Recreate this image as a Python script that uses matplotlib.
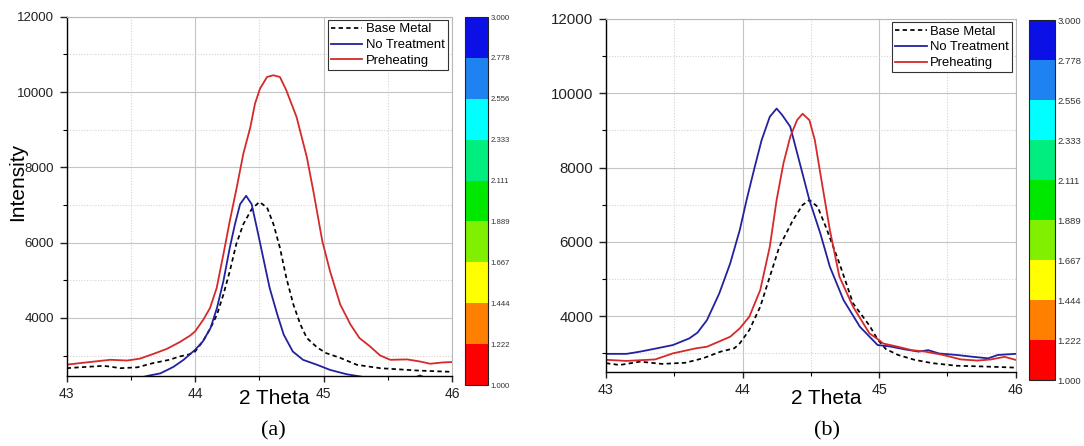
import matplotlib
matplotlib.use("Agg")
import matplotlib.pyplot as plt
from matplotlib.colors import ListedColormap, BoundaryNorm
from matplotlib.ticker import MultipleLocator, FixedLocator
import matplotlib.colorbar as mcolorbar

plt.rcParams['font.family'] = ['Liberation Sans', 'DejaVu Sans']

# ---------------- data: panel (a) ----------------
xa_base = [43.0, 43.10, 43.29, 43.42, 43.55, 43.67, 43.80, 43.88, 43.95, 44.0, 44.06, 44.12,
           44.17, 44.22, 44.27, 44.32, 44.375, 44.44, 44.50, 44.56, 44.61, 44.66, 44.71,
           44.765, 44.82, 44.87, 44.95, 45.02, 45.13, 45.26, 45.44, 45.52, 45.73, 45.93, 46.0]
ya_base = [2667, 2690, 2730, 2667, 2690, 2800, 2890, 2978, 3030, 3111, 3378, 3733,
           4089, 4622, 5245, 5956, 6489, 6889, 7080, 6933, 6489, 5867, 5067,
           4356, 3823, 3467, 3218, 3067, 2940, 2756, 2667, 2650, 2605, 2578, 2570]

xa_none = [43.0, 43.5, 43.64, 43.73, 43.83, 43.91, 44.0, 44.06, 44.12, 44.17, 44.22, 44.27,
           44.31, 44.35, 44.397, 44.44, 44.48, 44.53, 44.58, 44.64, 44.69, 44.76, 44.84,
           44.95, 45.05, 45.18, 45.28, 45.4, 45.6, 45.7, 45.75, 45.8, 46.0]
ya_none = [2200, 2350, 2470, 2530, 2700, 2889, 3156, 3378, 3733, 4266, 4978, 5867,
           6489, 7022, 7245, 7022, 6400, 5600, 4800, 4089, 3556, 3111, 2889,
           2756, 2622, 2506, 2450, 2380, 2350, 2400, 2475, 2400, 2300]

xa_pre = [43.0, 43.10, 43.26, 43.34, 43.47, 43.57, 43.67, 43.78, 43.88, 43.96, 44.0, 44.064,
          44.116, 44.168, 44.22, 44.27, 44.324, 44.375, 44.43, 44.466, 44.505, 44.56, 44.61,
          44.66, 44.71, 44.79, 44.87, 44.92, 44.99, 45.05, 45.13, 45.21, 45.28, 45.36,
          45.44, 45.52, 45.65, 45.75, 45.83, 45.93, 46.0]
ya_pre = [2760, 2800, 2860, 2890, 2870, 2920, 3040, 3180, 3360, 3530, 3645, 3956,
          4266, 4800, 5690, 6578, 7466, 8357, 9067, 9690, 10090, 10400, 10445,
          10400, 10045, 9333, 8266, 7378, 6045, 5245, 4356, 3823, 3466, 3250,
          3005, 2889, 2900, 2845, 2785, 2820, 2830]

# ---------------- data: panel (b) ----------------
xb_base = [43.0, 43.10, 43.25, 43.41, 43.58, 43.71, 43.84, 43.94, 43.98, 44.05, 44.13, 44.20,
           44.27, 44.37, 44.44, 44.49, 44.55, 44.61, 44.71, 44.81, 44.93, 44.99, 45.05,
           45.14, 45.26, 45.39, 45.57, 45.77, 46.0]
yb_base = [2740, 2690, 2780, 2720, 2750, 2870, 3050, 3140, 3273, 3631, 4258, 5066,
           5873, 6591, 6995, 7130, 6950, 6411, 5425, 4349, 3750, 3380, 3120,
           2960, 2830, 2740, 2670, 2650, 2620]

xb_none = [43.0, 43.15, 43.25, 43.37, 43.49, 43.61, 43.67, 43.74, 43.83, 43.91, 43.98, 44.03,
           44.09, 44.14, 44.20, 44.25, 44.29, 44.35, 44.42, 44.49, 44.57, 44.64, 44.74,
           44.86, 44.99, 45.08, 45.19, 45.29, 45.36, 45.44, 45.57, 45.69, 45.80, 45.87, 46.0]
yb_none = [2990, 2990, 3050, 3137, 3227, 3406, 3560, 3900, 4618, 5425, 6322, 7130,
           8026, 8740, 9370, 9590, 9420, 9102, 8117, 7130, 6233, 5334, 4438,
           3720, 3227, 3190, 3110, 3050, 3090, 3000, 2960, 2910, 2870, 2960, 2990]

xb_pre = [43.0, 43.15, 43.36, 43.49, 43.66, 43.74, 43.91, 43.98, 44.05, 44.13, 44.20, 44.25,
          44.30, 44.35, 44.40, 44.44, 44.49, 44.53, 44.57, 44.64, 44.71, 44.81, 44.93,
          45.0, 45.03, 45.14, 45.24, 45.34, 45.47, 45.60, 45.72, 45.82, 45.92, 46.0]
yb_pre = [2830, 2800, 2840, 3003, 3140, 3182, 3451, 3676, 3990, 4707, 5873, 7130,
          8117, 8833, 9282, 9450, 9280, 8740, 7847, 6322, 5066, 4258, 3541,
          3362, 3270, 3180, 3090, 3050, 2960, 2840, 2810, 2840, 2910, 2830]

series_labels = ["Base Metal", "No Treatment", "Preheating"]
x_ticks = [43, 44, 45, 46]
y_ticks = [4000, 6000, 8000, 10000, 12000]

cbar_bounds = [1.000, 1.222, 1.444, 1.667, 1.889, 2.111, 2.333, 2.556, 2.778, 3.000]
cbar_colors = ["#ff0000", "#ff8000", "#ffff00", "#80f000", "#00e800",
               "#00ee80", "#00ffff", "#1e82f0", "#0a10e6"]

panel_letters = ["(a)", "(b)"]

W, H = 1084, 446
fig = plt.figure(figsize=(W / 100, H / 100), dpi=100)


def rect(x0, y0, x1, y1):
    """pixel box (left, top, right, bottom) -> figure fraction rect"""
    return [x0 / W, 1 - y1 / H, (x1 - x0) / W, (y1 - y0) / H]


RED = "#d42a2a"
BLUE = "#22229e"


def style_axes(ax, ybottom, tick_fs_x, tick_fs_y):
    ax.set_xlim(43, 46)
    ax.set_ylim(ybottom, 12000)
    ax.xaxis.set_major_locator(FixedLocator(x_ticks))
    ax.xaxis.set_minor_locator(MultipleLocator(0.5))
    ax.yaxis.set_major_locator(FixedLocator(y_ticks))
    ax.yaxis.set_minor_locator(MultipleLocator(1000))
    ax.grid(True, which='major', color='#c4c4c4', lw=0.8, ls='-')
    ax.grid(True, which='minor', color='#d4d4d4', lw=0.8, ls=(0, (1, 1.5)))
    ax.set_axisbelow(True)
    for s in ['top', 'right']:
        ax.spines[s].set_color('#b8b8b8')
        ax.spines[s].set_linewidth(0.8)
    for s in ['left', 'bottom']:
        ax.spines[s].set_color('black')
        ax.spines[s].set_linewidth(1.0)
    ax.tick_params(axis='x', which='major', direction='out', length=4, width=1,
                   labelsize=tick_fs_x, colors='#222222', pad=4)
    ax.tick_params(axis='x', which='minor', direction='out', length=3, width=0.8)
    ax.tick_params(axis='y', which='major', direction='out', length=5, width=1,
                   labelsize=tick_fs_y, colors='#222222', pad=4)
    ax.tick_params(axis='y', which='minor', direction='out', length=3, width=0.8)
    ax.tick_params(top=False, right=False, which='both')


def draw_panel(ax_rect, cb_rect, xs_ys, ybottom, tick_fs_x, tick_fs_y, leg_anchor, cb_fs):
    ax = fig.add_axes(ax_rect)
    (xb, yb), (xn, yn), (xp, yp) = xs_ys
    ax.plot(xb, yb, color='black', lw=1.25, ls=(0, (2.5, 1.9)), label=series_labels[0])
    ax.plot(xn, yn, color=BLUE, lw=1.3, label=series_labels[1])
    ax.plot(xp, yp, color=RED, lw=1.3, label=series_labels[2])
    style_axes(ax, ybottom, tick_fs_x, tick_fs_y)
    leg = ax.legend(loc='upper right', bbox_to_anchor=leg_anchor, fontsize=9.4,
                    frameon=True, fancybox=False, edgecolor='#333333', framealpha=1,
                    borderpad=0.25, labelspacing=0.28, handlelength=2.4,
                    handletextpad=0.25, borderaxespad=0)
    leg.get_frame().set_linewidth(0.8)

    cax = fig.add_axes(cb_rect)
    cmap = ListedColormap(cbar_colors)
    norm = BoundaryNorm(cbar_bounds, cmap.N)
    cb = mcolorbar.ColorbarBase(cax, cmap=cmap, norm=norm, boundaries=cbar_bounds,
                                ticks=cbar_bounds, format='%.3f', orientation='vertical')
    cb.outline.set_linewidth(0.8)
    cb.outline.set_edgecolor('#222222')
    cax.tick_params(labelsize=cb_fs, length=0, pad=2, colors='#333333')
    return ax


# panel (a)
draw_panel(rect(66.7, 16.7, 452, 375.6), rect(465, 17, 488, 385),
           [(xa_base, ya_base), (xa_none, ya_none), (xa_pre, ya_pre)],
           2470, 10, 9.5, (0.989, 0.991), 5.6)

# panel (b)
draw_panel(rect(606, 19, 1015.5, 371.7), rect(1029, 20, 1055, 380),
           [(xb_base, yb_base), (xb_none, yb_none), (xb_pre, yb_pre)],
           2510, 10.3, 10.8, (0.991, 0.991), 6.8)

# axis labels
fig.text(274 / W, 1 - 398 / H, "2 Theta", fontsize=15, ha='center', va='center')
fig.text(826 / W, 1 - 398 / H, "2 Theta", fontsize=15, ha='center', va='center')
fig.text(18 / W, 1 - 182 / H, "Intensity", fontsize=15, ha='center', va='center', rotation=90)

# panel captions
fig.text(273 / W, 1 - 431 / H, panel_letters[0], fontsize=16, ha='center', va='center',
         family=['Liberation Serif', 'DejaVu Serif'])
fig.text(827 / W, 1 - 431 / H, panel_letters[1], fontsize=16, ha='center', va='center',
         family=['Liberation Serif', 'DejaVu Serif'])

fig.savefig("out.png", dpi=100)
